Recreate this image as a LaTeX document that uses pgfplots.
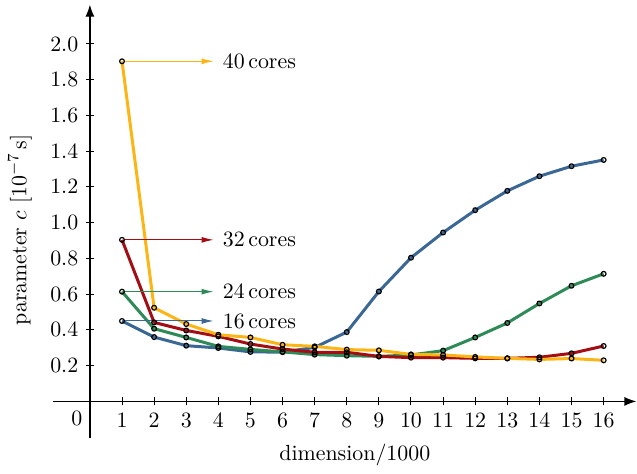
\documentclass[border=0pt,11pt]{standalone}
\usepackage{pgfplots}
\pgfplotsset{compat=1.18}
\usetikzlibrary{arrows.meta}

\definecolor{cYellow}{HTML}{FDB515}
\definecolor{cRed}{HTML}{A30D14}
\definecolor{cGreen}{HTML}{2E8B57}
\definecolor{cBlue}{HTML}{3A6793}

\pgfplotstableread{
x c16 c24 c32 c40
1 0.450 0.614 0.904 1.903
2 0.360 0.407 0.442 0.524
3 0.312 0.358 0.397 0.433
4 0.299 0.308 0.364 0.373
5 0.277 0.291 0.321 0.358
6 0.276 0.277 0.293 0.317
7 0.302 0.262 0.275 0.308
8 0.388 0.256 0.275 0.290
9 0.615 0.252 0.252 0.286
10 0.804 0.260 0.245 0.263
11 0.945 0.284 0.245 0.260
12 1.070 0.358 0.241 0.249
13 1.178 0.439 0.241 0.241
14 1.260 0.548 0.247 0.235
15 1.316 0.647 0.269 0.240
16 1.351 0.714 0.310 0.230
}\datatable

\begin{document}
\begin{tikzpicture}
\begin{axis}[
  x=16.07pt, y=89.45pt,
  xmin=-1.15, xmax=17.02, ymin=-0.205, ymax=2.22,
  axis lines=middle,
  axis line style={line width=0.6pt, -{Latex[length=6pt,width=4.5pt]}},
  xtick={1,...,16},
  ytick={0.2,0.4,...,2.0},
  tick align=center,
  major tick length=4pt,
  tick style={line width=0.5pt, black},
  yticklabel style={/pgf/number format/.cd, fixed, fixed zerofill, precision=1},
  xlabel={dimension/1000},
  ylabel={parameter $c$ [$10^{-7}\,$s]},
  xlabel style={at={(axis cs:8.25,-0.30)}, anchor=center},
  ylabel style={at={(axis cs:-2.18,0.96)}, anchor=center, rotate=90},
  clip=false,
  every axis plot/.append style={line width=1.5pt, line join=round,
    mark=o, mark size=1.2pt, mark options={black, line width=0.6pt, fill=white}},
]
% fixed outer frame of the figure
\path (axis cs:-2.80,-0.392) rectangle (axis cs:17.02,2.246);

\addplot[cBlue]   table[x=x, y=c16] {\datatable};
\addplot[cGreen]  table[x=x, y=c24] {\datatable};
\addplot[cRed]    table[x=x, y=c32] {\datatable};
\addplot[cYellow] table[x=x, y=c40] {\datatable};

\node[anchor=north east, yshift=-1pt] at (axis cs:0,0) {0};

\draw[cBlue, line width=0.5pt, -{Latex[length=6pt,width=3pt]}] (axis cs:1.05,0.450) -- (axis cs:3.85,0.450);
\draw[cGreen, line width=0.5pt, -{Latex[length=6pt,width=3pt]}] (axis cs:1.05,0.614) -- (axis cs:3.85,0.614);
\draw[cRed, line width=0.5pt, -{Latex[length=6pt,width=3pt]}] (axis cs:1.05,0.904) -- (axis cs:3.85,0.904);
\draw[cYellow, line width=0.5pt, -{Latex[length=6pt,width=3pt]}] (axis cs:1.05,1.903) -- (axis cs:3.85,1.903);
\node[anchor=west] at (axis cs:3.9,0.450) {16\,cores};
\node[anchor=west] at (axis cs:3.9,0.614) {24\,cores};
\node[anchor=west] at (axis cs:3.9,0.904) {32\,cores};
\node[anchor=west] at (axis cs:3.9,1.903) {40\,cores};
\end{axis}
\end{tikzpicture}
\end{document}
